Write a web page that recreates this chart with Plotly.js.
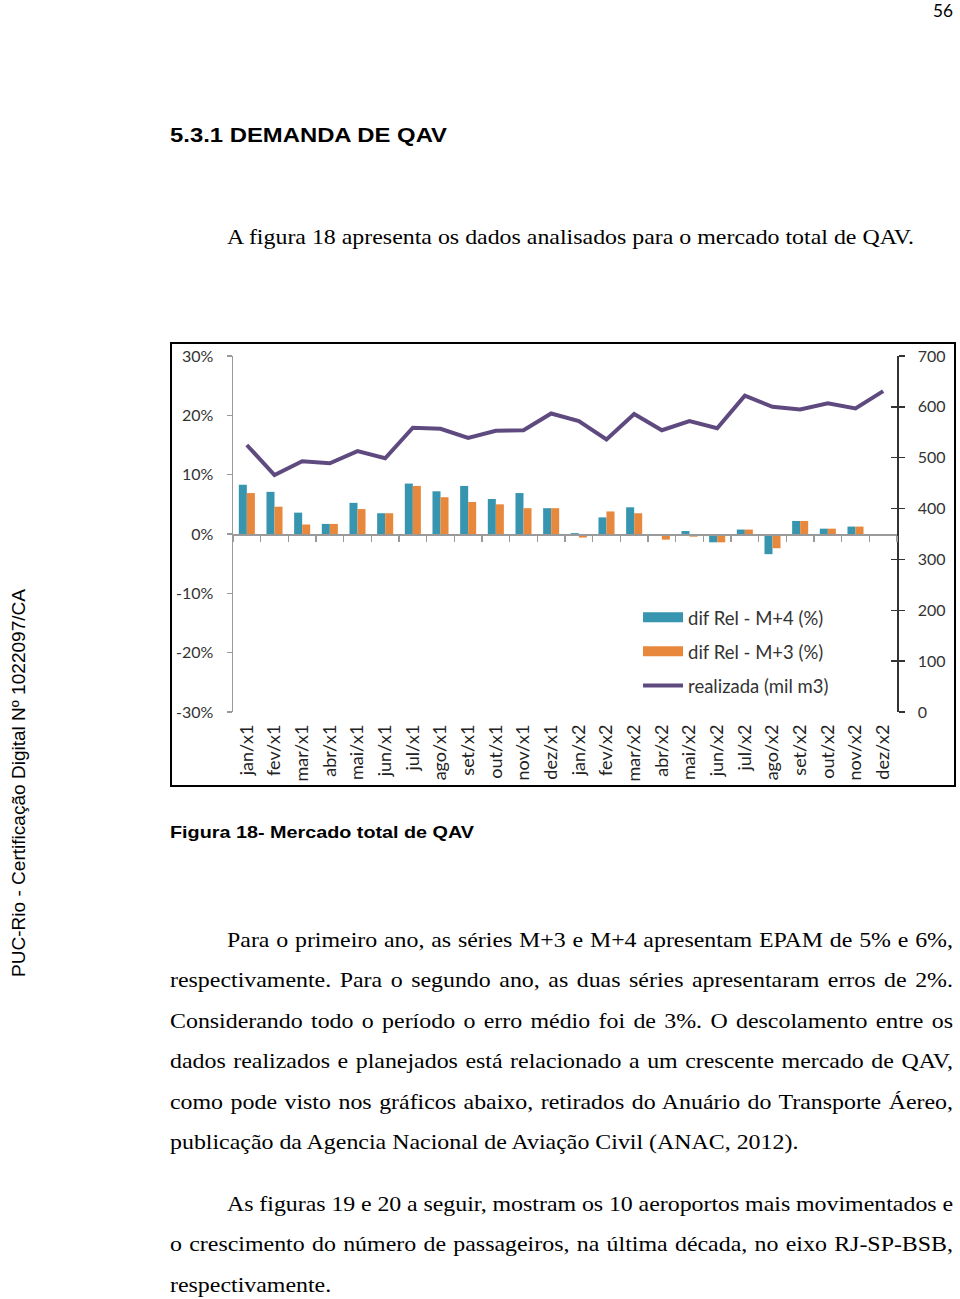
<!DOCTYPE html>
<html><head><meta charset="utf-8">
<script src="https://cdn.plot.ly/plotly-3.0.1.min.js"></script>
<style>
html,body{margin:0;padding:0;background:#fff;}
body{width:960px;height:1299px;position:relative;overflow:hidden;}
.t{position:absolute;white-space:nowrap;transform-origin:0 0;color:#000;}
.serif{font-family:"Liberation Serif","Times New Roman",serif;font-size:21px;line-height:26px;}
.sansb{font-family:"Liberation Sans",Arial,sans-serif;font-weight:bold;}
#frame{position:absolute;left:170px;top:342px;width:782px;height:441px;border:2px solid #000;}
#chart{width:782px;height:441px;}
</style></head>
<body>
<div id="frame"><div id="chart"></div></div>
<script>
// ---------- chart data ----------
const months = ['jan/x1','fev/x1','mar/x1','abr/x1','mai/x1','jun/x1','jul/x1','ago/x1','set/x1','out/x1','nov/x1','dez/x1',
                'jan/x2','fev/x2','mar/x2','abr/x2','mai/x2','jun/x2','jul/x2','ago/x2','set/x2','out/x2','nov/x2','dez/x2'];
const difRelM4 = [8.3, 7.1, 3.6, 1.7, 5.25, 3.5, 8.5, 7.2, 8.1, 5.9, 6.9, 4.35,
                  0.15, 2.8, 4.5, -0.2, 0.5, -1.4, 0.75, -3.4, 2.2, 0.9, 1.25, -0.1];
const difRelM3 = [6.9, 4.6, 1.6, 1.7, 4.2, 3.5, 8.1, 6.2, 5.4, 5.0, 4.35, 4.35,
                  -0.6, 3.8, 3.5, -0.95, -0.45, -1.4, 0.75, -2.4, 2.2, 0.9, 1.25, -0.1];
const realizada = [525, 466, 493, 489, 513, 499, 559, 557, 539, 553, 554, 587,
                   572, 536, 586, 554, 572, 558, 622, 600, 595, 607, 597, 631];
const leftTickVals = [-30, -20, -10, 0, 10, 20, 30];
const leftTickText = ['-30%', '-20%', '-10%', '0%', '10%', '20%', '30%'];
const rightTickVals = [0, 100, 200, 300, 400, 500, 600, 700];
const seriesNames = ['dif Rel - M+4 (%)', 'dif Rel - M+3 (%)', 'realizada (mil m3)'];

const TEAL = '#3795b0', ORANGE = '#e8883c', PURPLE = '#5f4a80';
const tickFont = {family: 'Lato, sans-serif', size: 16, color: '#333'};
const nulls = months.map(() => null);

const traces = [
  {type: 'bar', x: months, y: difRelM4, name: seriesNames[0], marker: {color: TEAL}, showlegend: false, xaxis: 'x', yaxis: 'y', hoverinfo: 'y'},
  {type: 'bar', x: months, y: difRelM3, name: seriesNames[1], marker: {color: ORANGE}, showlegend: false, xaxis: 'x', yaxis: 'y', hoverinfo: 'y'},
  // legend swatches (no data)
  {type: 'scatter', mode: 'lines', x: [null], y: [null], name: seriesNames[0], line: {color: TEAL, width: 10}, legendgroup: 'a', xaxis: 'x', yaxis: 'y'},
  {type: 'scatter', mode: 'lines', x: [null], y: [null], name: seriesNames[1], line: {color: ORANGE, width: 10}, legendgroup: 'b', xaxis: 'x', yaxis: 'y'},
  {type: 'scatter', mode: 'lines', x: months, y: realizada, name: seriesNames[2], line: {color: PURPLE, width: 4}, legendgroup: 'c', xaxis: 'x', yaxis: 'y2'},
  // carriers for the zero-crossing category axis and the inner right ticks
  {type: 'scatter', mode: 'lines', x: months, y: nulls, showlegend: false, hoverinfo: 'skip', xaxis: 'x2', yaxis: 'y'},
  {type: 'scatter', mode: 'lines', x: months, y: nulls, showlegend: false, hoverinfo: 'skip', xaxis: 'x', yaxis: 'y3'}
];

const layout = {
  width: 782, height: 441,
  margin: {l: 61, r: 57, t: 12, b: 73},
  paper_bgcolor: '#fff', plot_bgcolor: 'rgba(0,0,0,0)',
  barmode: 'group', bargap: 0.42, bargroupgap: 0,
  showlegend: true,
  legend: {x: 0.61, y: 0.318, xanchor: 'left', yanchor: 'top', bgcolor: 'rgba(0,0,0,0)',
           font: {family: 'Lato, sans-serif', size: 18.5, color: '#333'}, tracegroupgap: 7, itemwidth: 40},
  xaxis: {type: 'category', categoryarray: months, range: [-0.5, 23.5], showline: false, ticks: '',
          showgrid: false, zeroline: false, tickangle: -90, tickfont: {family: 'Lato, sans-serif', size: 18, color: '#222'},
          ticklabelstandoff: 8},
  xaxis2: {type: 'category', categoryarray: months, range: [-0.5, 23.5], overlaying: 'x', anchor: 'free', position: 0.5,
           side: 'bottom', showticklabels: false, ticks: 'outside', tickson: 'boundaries', ticklen: 6, tickcolor: '#9a9a9a',
           tickwidth: 1.3, showline: true, linecolor: '#9a9a9a', linewidth: 1.5, showgrid: false, zeroline: false},
  yaxis: {range: [-30, 30], tickvals: leftTickVals, ticktext: leftTickText, ticks: 'outside', ticklen: 5,
          tickcolor: '#9a9a9a', tickwidth: 1.3, showline: true, linecolor: '#9a9a9a', linewidth: 1.5,
          showgrid: false, zeroline: false, tickfont: tickFont, ticklabelstandoff: 10},
  yaxis2: {range: [0, 700], tickvals: rightTickVals, overlaying: 'y', side: 'right', anchor: 'x', ticks: 'outside', ticklen: 6,
           tickcolor: '#333', tickwidth: 1.3, showline: true, linecolor: '#333', linewidth: 1.5,
           showgrid: false, zeroline: false, tickfont: tickFont, ticklabelstandoff: 10},
  yaxis3: {range: [0, 700], tickvals: rightTickVals, overlaying: 'y', side: 'right', anchor: 'x', ticks: 'inside', ticklen: 6,
           tickcolor: '#333', tickwidth: 1.3, showline: false, showticklabels: false, showgrid: false, zeroline: false}
};
Plotly.newPlot('chart', traces, layout, {staticPlot: true, displayModeBar: false});

// ---------- page text ----------
function mk(text, cls, font) {
  const d = document.createElement('div');
  d.className = 't ' + cls;
  d.textContent = text;
  if (font) d.style.font = font;
  document.body.appendChild(d);
  return d;
}
function fitBox(d, left, width, cy, lh) {
  d.style.lineHeight = lh + 'px';
  d.style.left = left + 'px';
  d.style.top = (cy - lh / 2) + 'px';
  const w = d.getBoundingClientRect().width;
  d.style.transform = 'scaleX(' + (width / w) + ')';
}

const n56 = mk('56', '', '18px Lato, sans-serif');
fitBox(n56, 933, 20, 9.5, 20);

const head = mk('5.3.1 DEMANDA DE QAV', 'sansb', 'bold 20px "Liberation Sans", Arial, sans-serif');
fitBox(head, 170, 277, 134.5, 22);

const intro = mk('A figura 18 apresenta os dados analisados para o mercado total de QAV.', 'serif');
intro.style.left = '227px'; intro.style.top = (237 - 13) + 'px';
const natural = intro.getBoundingClientRect().width;
const S = 687 / natural;
intro.style.transform = 'scaleX(' + S + ')';

const cap = mk('Figura 18- Mercado total de QAV', 'sansb', 'bold 17px "Liberation Sans", Arial, sans-serif');
fitBox(cap, 170, 304, 832, 19);

const side = mk('PUC-Rio - Certificação Digital Nº 1022097/CA', '', '18px "Liberation Sans", Arial, sans-serif');
side.style.lineHeight = '18px';
const sw = side.getBoundingClientRect().width;
side.style.left = '9.5px'; side.style.top = '977px';
side.style.transform = 'rotate(-90deg) scaleX(' + (388 / sw) + ')';

const bodyLines = [
  ['Para o primeiro ano, as séries M+3 e M+4 apresentam EPAM de 5% e 6%,', 227, 939.7, true],
  ['respectivamente. Para o segundo ano, as duas séries apresentaram erros de 2%.', 170, 980.2, true],
  ['Considerando todo o período o erro médio foi de 3%. O descolamento entre os', 170, 1020.7, true],
  ['dados realizados e planejados está relacionado a um crescente mercado de QAV,', 170, 1061.2, true],
  ['como pode visto nos gráficos abaixo, retirados do Anuário do Transporte Áereo,', 170, 1101.7, true],
  ['publicação da Agencia Nacional de Aviação Civil (ANAC, 2012).', 170, 1142.2, false],
  ['As figuras 19 e 20 a seguir, mostram os 10 aeroportos mais movimentados e', 227, 1203.5, true],
  ['o crescimento do número de passageiros, na última década, no eixo RJ-SP-BSB,', 170, 1244, true],
  ['respectivamente.', 170, 1284.5, false]
];
bodyLines.forEach(([txt, left, cy, just]) => {
  const d = mk(txt, 'serif');
  d.style.left = left + 'px';
  d.style.top = (cy - 13) + 'px';
  if (just) {
    const w = d.getBoundingClientRect().width;
    const spaces = (txt.match(/ /g) || []).length;
    const extra = (953 - left) / S - w;
    d.style.wordSpacing = (extra / spaces) + 'px';
  }
  d.style.transform = 'scaleX(' + S + ')';
});
</script>
</body></html>
